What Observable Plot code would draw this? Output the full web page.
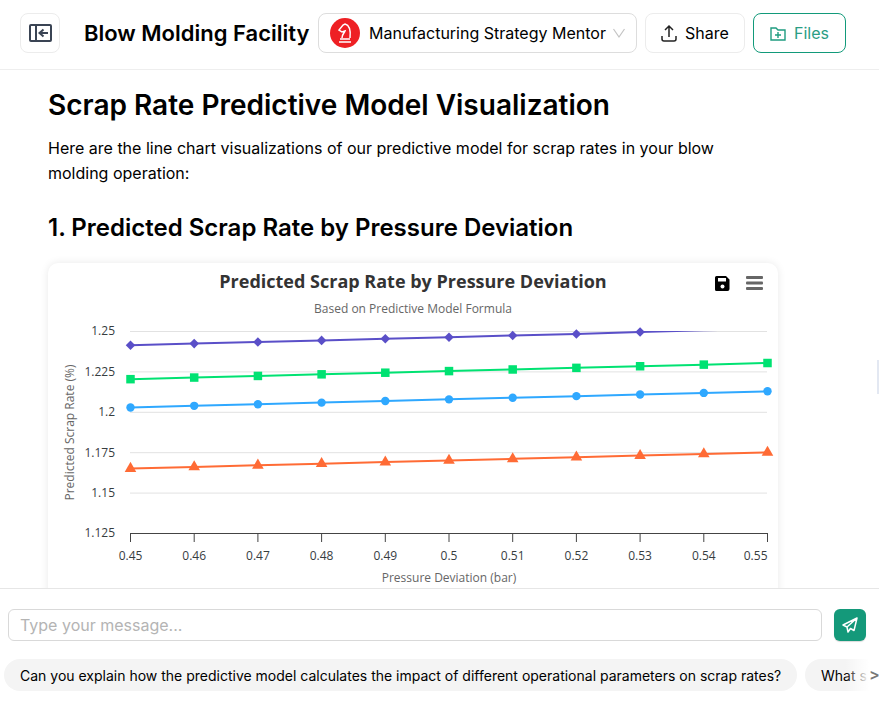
<!DOCTYPE html>
<html><head><meta charset="utf-8">
<script src="https://cdn.jsdelivr.net/npm/d3@7"></script>
<script src="https://cdn.jsdelivr.net/npm/@observablehq/plot@0.6"></script>
<style>
html,body{margin:0;padding:0;width:879px;height:702px;overflow:hidden;background:#fff;font-family:Inter,sans-serif;color:#000}
.a{position:absolute;white-space:nowrap}
.btn{box-sizing:border-box;border:1px solid #ececec;border-radius:8px;background:#fff}
.chart{font-family:"Open Sans",sans-serif}
#card{left:48px;top:263px;width:730px;height:340px;border-radius:10px;background:#fff;box-shadow:0 0 8px rgba(0,0,0,.09)}
#plot{left:48px;top:263px}
#plot svg{display:block;overflow:visible}
</style></head><body>

<div class="a" style="left:0;top:69px;width:879px;height:1px;background:#eee"></div>
<div class="a btn" style="left:20px;top:13px;width:40px;height:40px">
<svg width="38" height="38" viewBox="0 0 38 38" fill="none" stroke="#3a4454" stroke-width="2"><rect x="9" y="11" width="21" height="16" rx="1"/><path d="M15 11v16M27 19h-8M22.500 15.500l-4 3.500 4 3.500"/></svg></div>
<div class="a" style="left:84px;top:18px;font-size:22px;font-weight:600;line-height:30px">Blow Molding Facility</div>

<div class="a btn" style="left:318px;top:13px;width:319px;height:40px;border-color:#ddd"></div>
<svg class="a" style="left:330px;top:18px" width="30" height="30" viewBox="0 0 30 30"><circle cx="15" cy="15" r="15" fill="#ee2024"/><path d="M9 24h12M10 21h10M12 20c0-4 2-4 3-7l-3 1-3-2 4-5 2-1c4 1 6 5 5 14" fill="none" stroke="#fff" stroke-width="1.500"/></svg>
<div class="a" style="left:369px;top:22px;font-size:16px;line-height:22px">Manufacturing Strategy Mentor</div>
<svg class="a" style="left:612px;top:27px" width="14" height="12" fill="none" stroke="#c4c4c4" stroke-width="1.200"><path d="M1.500 2l5.500 8 5.500-8"/></svg>

<div class="a btn" style="left:645px;top:13px;width:100px;height:40px"></div>
<svg class="a" style="left:659px;top:23px" width="20" height="20" fill="none" stroke="#222" stroke-width="1.500"><path d="M10 14V3M6 7l4-4 4 4M3 13v3a2 2 0 0 0 2 2h10a2 2 0 0 0 2-2v-3"/></svg>
<div class="a" style="left:685px;top:22px;font-size:16px;line-height:22px">Share</div>

<div class="a btn" style="left:753px;top:13px;width:93px;height:40px;border-color:#129a7a"></div>
<svg class="a" style="left:769px;top:24px" width="18" height="18" fill="none" stroke="#1f9c80" stroke-width="1.400"><path d="M2 4h5l2 2h7v10H2zM9 8v6M6 11h6"/></svg>
<div class="a" style="left:794px;top:22px;font-size:16px;line-height:22px;color:#2a9d84">Files</div>

<div class="a" style="left:48px;top:86px;font-size:28px;font-weight:600;line-height:38px">Scrap Rate Predictive Model Visualization</div>
<div class="a" style="left:48px;top:136px;font-size:16px;line-height:25px">Here are the line chart visualizations of our predictive model for scrap rates in your blow<br>molding operation:</div>
<div class="a" style="left:48px;top:212px;font-size:24px;font-weight:600;line-height:32px">1. Predicted Scrap Rate by Pressure Deviation</div>

<div class="a" id="card"></div>
<div class="a chart" style="left:48px;width:730px;text-align:center;top:269px;font-size:18px;font-weight:700;line-height:25px;color:#333">Predicted Scrap Rate by Pressure Deviation</div>
<div class="a chart" style="left:48px;width:730px;text-align:center;top:300px;font-size:12px;line-height:17px;color:#666">Based on Predictive Model Formula</div>
<svg class="a" style="left:715px;top:276px" width="15" height="15" viewBox="0 0 15 15"><path d="M1.500 0H11l3.500 3.500V13a2 2 0 0 1-2 2h-11a1.500 1.500 0 0 1-1.500-1.500v-12A1.500 1.500 0 0 1 1.500 0z" fill="#000"/><rect x="3" y="2" width="8" height="3.500" fill="#fff"/><circle cx="7.500" cy="10.500" r="2" fill="#fff"/></svg>
<svg class="a" style="left:745px;top:275px" width="18" height="16" fill="#666"><rect x="1" y="1" width="17" height="3" rx="1"/><rect x="1" y="6.500" width="17" height="3" rx="1"/><rect x="1" y="12" width="17" height="3" rx="1"/></svg>
<div class="a chart" id="plot"></div>
<div class="a" style="left:877px;top:360px;width:2px;height:34px;background:#e3e8f2"></div>

<div class="a" style="left:0;top:588px;width:879px;height:114px;background:#fff;border-top:1px solid #e6e6e6;box-sizing:border-box"></div>
<div class="a" style="left:8px;top:609px;width:814px;height:32px;box-sizing:border-box;border:1px solid #d9d9d9;border-radius:6px;background:#fff"></div>
<div class="a" style="left:20px;top:614px;font-size:16px;line-height:22px;color:#b4b4b4">Type your message...</div>
<div class="a" style="left:834px;top:609px;width:32px;height:32px;border-radius:6px;background:#14997a;box-shadow:0 1px 1px rgba(0,0,0,.15)"></div>
<svg class="a" style="left:841px;top:616px" width="18" height="18" fill="none" stroke="#fff" stroke-width="1.500" stroke-linejoin="round"><path d="M16 2L2 9l4 2 1 5 2.500-3.500 3.500 2zM16 2L6 11"/></svg>
<div class="a" style="left:4px;top:659px;width:793px;height:32px;border-radius:16px;background:#f4f4f4"></div>
<div class="a" style="left:20px;top:666px;font-size:14px;line-height:20px">Can you explain how the predictive model calculates the impact of different operational parameters on scrap rates?</div>
<div class="a" style="left:805px;top:659px;width:90px;height:32px;border-radius:16px;background:#f4f4f4"></div>
<div class="a" style="left:821px;top:666px;font-size:14px;line-height:20px">What s</div>
<div class="a" style="left:845px;top:655px;width:34px;height:40px;background:linear-gradient(90deg,rgba(255,255,255,0),#fff 70%)"></div>
<div class="a" style="left:869px;top:664px;font-size:16px;line-height:20px;color:#777;font-weight:600">&gt;</div>

<script>
const pressure = [0.45, 0.46, 0.47, 0.48, 0.49, 0.50, 0.51, 0.52, 0.53, 0.54, 0.55];
const purpleRate = [1.2415, 1.2425, 1.2435, 1.2445, 1.2455, 1.2465, 1.2475, 1.2485, 1.2497, 1.2507, 1.2517];
const greenRate = [1.2205, 1.2215, 1.2225, 1.2235, 1.2245, 1.2255, 1.2265, 1.2275, 1.2285, 1.2295, 1.2305];
const blueRate = [1.2030, 1.2040, 1.2050, 1.2060, 1.2070, 1.2080, 1.2090, 1.2100, 1.2110, 1.2120, 1.2130];
const orangeRate = [1.1652, 1.1662, 1.1672, 1.1682, 1.1692, 1.1702, 1.1712, 1.1722, 1.1732, 1.1742, 1.1752];
const yTicks = [1.125, 1.15, 1.175, 1.2, 1.225, 1.25];
const yMax = 1.25;

const seriesDefs = [
  {values: orangeRate, color: "#ff6b35", symbol: "triangle", r: 4.300},
  {values: blueRate, color: "#2fa8ff", symbol: "circle", r: 4.200},
  {values: greenRate, color: "#00e272", symbol: "square", r: 4.800},
  {values: purpleRate, color: "#5a4fc8", symbol: "diamond2", r: 4.300}
];
const rows = v => pressure.map((x, i) => ({x, y: v[i]}));
const tickStyle = {fontSize: 12, fill: "#373d3f", tickSize: 0};

const chart = Plot.plot({
  width: 730, height: 325,
  marginLeft: 82, marginRight: 11, marginTop: 68, marginBottom: 55,
  style: {fontFamily: '"Open Sans",sans-serif', background: "transparent", overflow: "visible"},
  x: {domain: [0.45, 0.55], label: null},
  y: {domain: [1.125, yMax], label: null},
  marks: [
    Plot.gridY(yTicks.slice(1), {stroke: "#e2e2e2", strokeOpacity: 1, strokeWidth: 1}),
    Plot.ruleY([1.125], {stroke: "#444", strokeWidth: 1}),
    Plot.axisY({ticks: yTicks, tickFormat: d => String(d), label: null, tickPadding: 15.500, ...tickStyle}),
    Plot.axisX({ticks: pressure.slice(0, -1), tickFormat: d => String(+d.toFixed(2)), label: null,
      tickSize: 9, stroke: "#444", tickPadding: 9, fontSize: 12, fill: "#373d3f", color: "#373d3f"}),
    Plot.axisX({ticks: [0.55], tickFormat: d => String(d), label: null, tickSize: 9, tickPadding: 9,
      textAnchor: "end", dx: 0, fontSize: 12, stroke: "#444", fill: "#373d3f"}),
    Plot.text(["Predicted Scrap Rate (%)"], {frameAnchor: "left", textAnchor: "middle", dx: -60.500, rotate: -90, fontSize: 12, fill: "#666"}),
    Plot.text(["Pressure Deviation (bar)"], {frameAnchor: "bottom", dy: 48, fontSize: 12, fill: "#666"}),
    ...seriesDefs.flatMap(s => [
      Plot.line(rows(s.values), {x: "x", y: "y", stroke: s.color, strokeWidth: 2, clip: true}),
      Plot.dot(rows(s.values).filter(d => d.y <= yMax), {x: "x", y: "y", fill: s.color, symbol: s.symbol, r: s.r})
    ])
  ]
});
document.getElementById("plot").append(chart);
</script>
</body></html>
